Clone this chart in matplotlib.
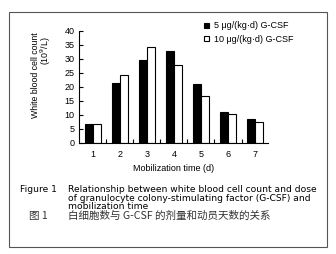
import matplotlib
matplotlib.use("Agg")
import matplotlib.pyplot as plt
from matplotlib.patches import Rectangle
import numpy as np

days = [1, 2, 3, 4, 5, 6, 7]
dose5 = [6.7, 21.2, 29.6, 32.7, 21.0, 11.0, 8.5]
dose10 = [6.7, 24.1, 34.1, 27.6, 16.7, 10.1, 7.3]
yticks = [0, 5, 10, 15, 20, 25, 30, 35, 40]
legend_labels = ["5 μg/(kg·d) G-CSF", "10 μg/(kg·d) G-CSF"]
caption_en = ("Relationship between white blood cell count and dose\n"
              "of granulocyte colony-stimulating factor (G-CSF) and\n"
              "mobilization time")
caption_zh = "白细胞数与 G-CSF 的剂量和动员天数的关系"

plt.rcParams['font.family'] = ['Liberation Sans', 'DejaVu Sans']

W, H = 336, 254
fig = plt.figure(figsize=(W / 100, H / 100), dpi=100)

def fx(px):
    return px / W

def fy(py):
    return 1 - py / H

# outer frame
fig.patches.append(Rectangle((fx(8.5), fy(246.5)), fx(327) - fx(8.5), fy(11.5) - fy(246.5),
                             transform=fig.transFigure, fill=False, edgecolor='#555555', linewidth=0.8))

ax = fig.add_axes([fx(78.5), fy(142.7), fx(268) - fx(78.5), fy(30.7) - fy(142.7)])
x = np.array(days, dtype=float)
bw = 0.3
b1 = ax.bar(x - bw / 2, dose5, width=bw, color='black', edgecolor='black', linewidth=0.8)
b2 = ax.bar(x + bw / 2, dose10, width=bw, color='white', edgecolor='black', linewidth=0.8)

ax.set_xlim(0.47, 7.48)
ax.set_ylim(0, 40)
ax.set_yticks(yticks)
ax.set_xticks(days)
ax.set_xticks([d + 0.5 for d in days[:-1]], minor=True)
ax.tick_params(axis='x', which='major', length=0, labelsize=6.5, pad=5)
ax.tick_params(axis='x', which='minor', direction='in', length=3, width=0.8)
ax.tick_params(axis='y', direction='in', length=3, width=0.8, labelsize=6.5, pad=3)
for s in ['top', 'right']:
    ax.spines[s].set_visible(False)
for s in ['left', 'bottom']:
    ax.spines[s].set_linewidth(0.8)

ax.set_xlabel("Mobilization time (d)", fontsize=6.5, labelpad=4)

fig.text(fx(35.5), fy(75), "White blood cell count", rotation=90, fontsize=6.3,
         ha='center', va='center')
fig.text(fx(46), fy(51), "(10$^9$/L)", rotation=90, fontsize=6.3,
         ha='center', va='center')

ax.legend([b1, b2], legend_labels, loc='upper left', bbox_to_anchor=(fx(204.5), fy(21.5)),
          bbox_transform=fig.transFigure, frameon=False, fontsize=6.5,
          handlelength=0.55, handleheight=0.55, handletextpad=0.5, labelspacing=0.45,
          borderaxespad=0, borderpad=0)

cap = 6.6
fig.text(fx(20), fy(185.5), "Figure 1", fontsize=cap, ha='left', va='top',
         family=['DejaVu Sans'])
fig.text(fx(67.5), fy(185.5), caption_en, fontsize=cap, ha='left', va='top',
         linespacing=0.92, family=['DejaVu Sans'])
fig.text(fx(29.3), fy(215.7), "图 1", fontsize=7.6, ha='left', va='center',
         family=['Noto Sans CJK SC', 'DejaVu Sans'], color='#333333')
fig.text(fx(67.5), fy(215.7), caption_zh, fontsize=7.6,
         ha='left', va='center', family=['Noto Sans CJK SC', 'DejaVu Sans'], color='#333333')

fig.savefig("out.png", dpi=100)
